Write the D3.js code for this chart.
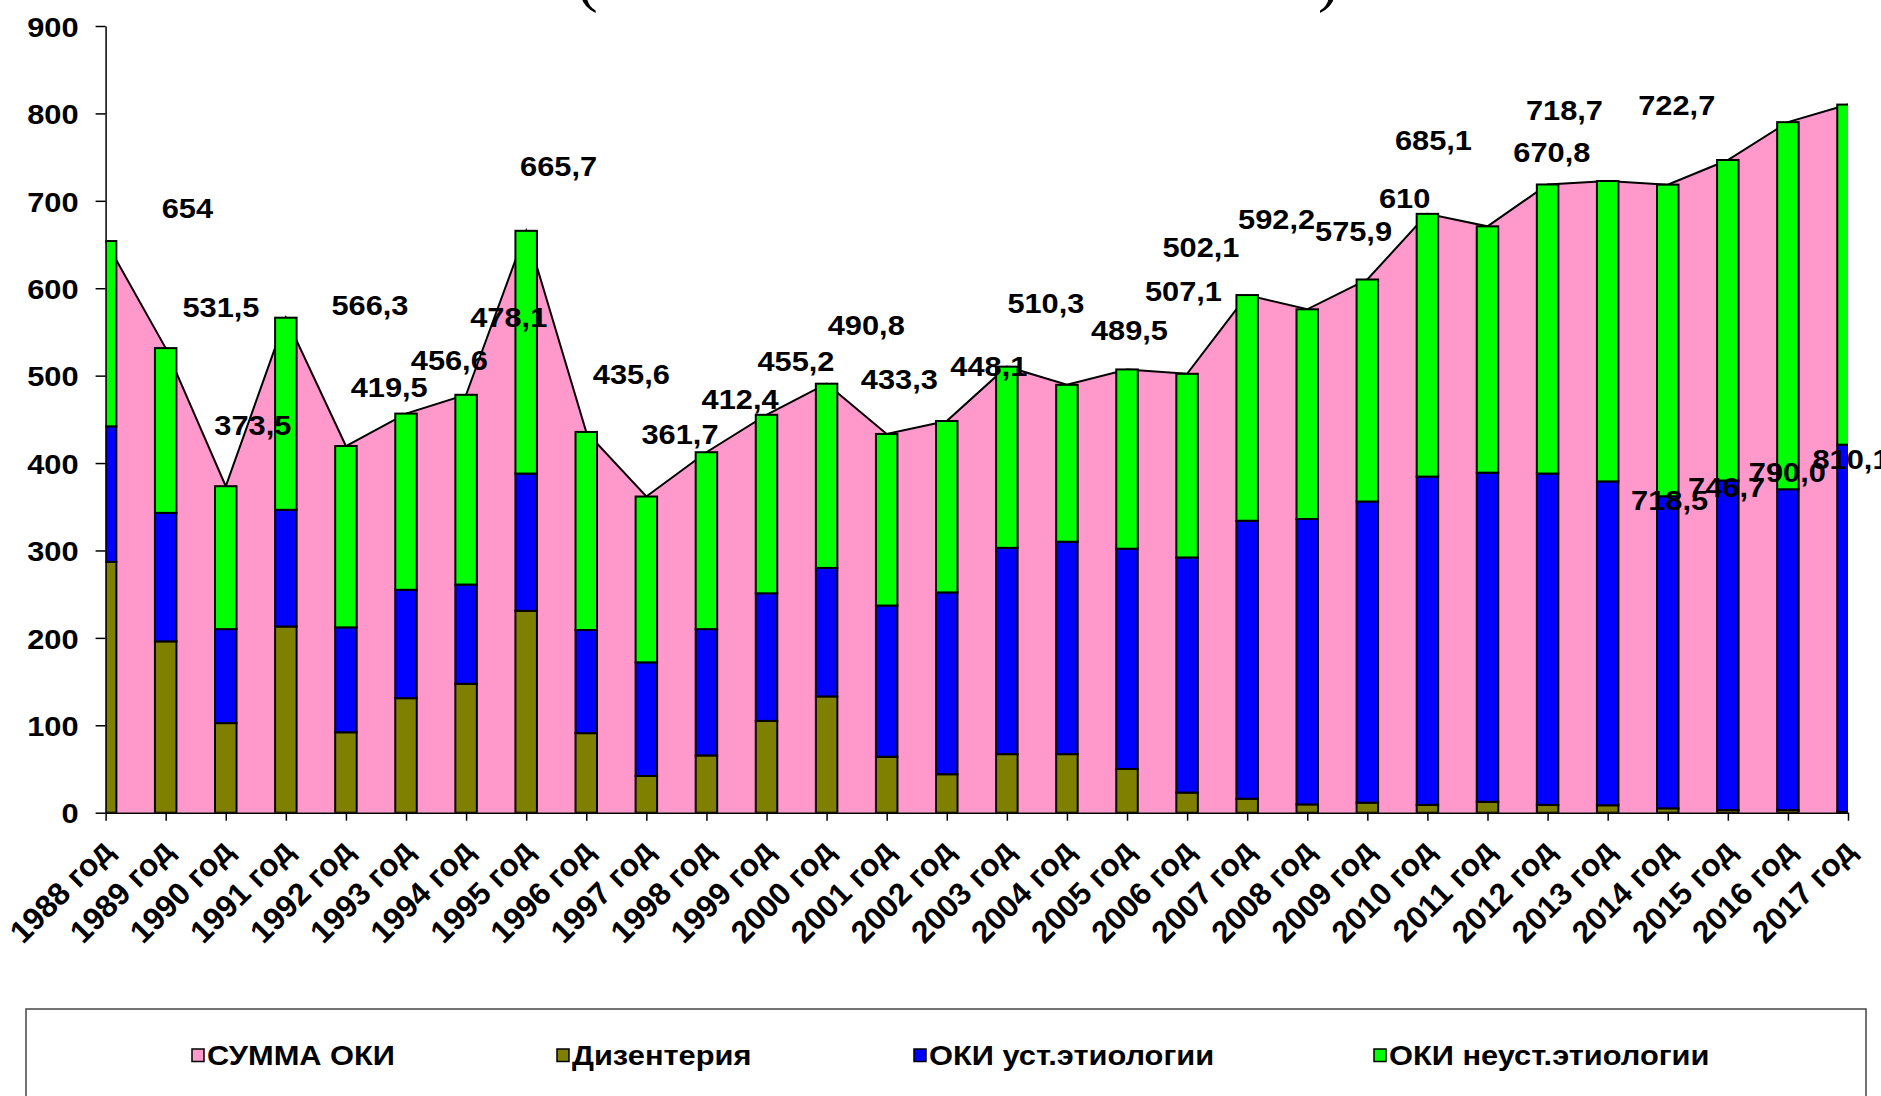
<!DOCTYPE html>
<meta charset="utf-8">
<style>
body { margin: 0; background: #fff; }
svg text { font-family: "Liberation Sans", Arial, sans-serif; font-weight: bold; fill: #000; }
.axis path, .axis line { stroke: #000; stroke-width: 1.5; fill: none; }
</style>
<body>
<script src="https://d3js.org/d3.v7.min.js"></script>
<script>

// categories
var years = ["1988 год", "1989 год", "1990 год", "1991 год", "1992 год", "1993 год",
  "1994 год", "1995 год", "1996 год", "1997 год", "1998 год", "1999 год", "2000 год",
  "2001 год", "2002 год", "2003 год", "2004 год", "2005 год", "2006 год", "2007 год",
  "2008 год", "2009 год", "2010 год", "2011 год", "2012 год", "2013 год", "2014 год",
  "2015 год", "2016 год", "2017 год"];

// СУММА ОКИ (area)
var summa = [654, 531.5, 373.5, 566.3, 419.5, 456.6, 478.1, 665.7, 435.6, 361.7, 412.4,
  455.2, 490.8, 433.3, 448.1, 510.3, 489.5, 507.1, 502.1, 592.2, 575.9, 610, 685.1,
  670.8, 718.7, 722.7, 718.5, 746.7, 790.0, 810.1];

// stacked bars
var dysentery = [287, 196, 102.5, 213, 92, 131, 147.5, 231, 91, 42, 65.5, 105, 133, 64,
  44, 67, 67, 50, 23, 16, 9.5, 11.5, 9, 12.5, 9, 8.5, 5, 3, 3, 1];
var okiUst = [155, 147, 107.5, 133.5, 120, 124, 113.5, 157, 118, 130, 144.5, 146, 147,
  173, 208, 236, 243, 252, 269, 318, 326.5, 344.5, 375.5, 376.5, 379, 370.5, 357, 377,
  367, 420];
var okiNeust = [212, 188.5, 163.5, 219.8, 207.5, 201.6, 217.1, 277.7, 226.6, 189.7, 202.4,
  204.2, 210.8, 196.3, 196.1, 207.3, 179.5, 205.1, 210.1, 258.2, 239.9, 254, 300.6, 281.8,
  330.7, 343.7, 356.5, 366.7, 420, 389.1];

// data labels as printed, and where they sit (category index, value units)
var labelText = ["654", "531,5", "373,5", "566,3", "419,5", "456,6", "478,1", "665,7",
  "435,6", "361,7", "412,4", "455,2", "490,8", "433,3", "448,1", "510,3", "489,5", "507,1",
  "502,1", "592,2", "575,9", "610", "685,1", "670,8", "718,7", "722,7", "718,5", "746,7",
  "790,0", "810,1"];
var labelAtX = [1.36, 1.92, 2.45, 4.40, 4.72, 5.72, 6.71, 7.54, 8.75, 9.56, 10.56, 11.49,
  12.66, 13.21, 14.70, 15.65, 17.04, 17.94, 18.23, 19.49, 20.77, 21.62, 22.10, 24.07,
  24.28, 26.15, 26.03, 26.98, 27.99, 29.05];
var labelAtY = [692, 579, 444, 581, 487, 518, 567, 740, 502, 434, 474, 517, 558, 497, 511,
  583, 553, 597, 647, 680, 666, 703, 770, 756, 804, 810, 358, 373, 390, 405];

var legendNames = ["СУММА ОКИ", "Дизентерия", "ОКИ уст.этиологии", "ОКИ неуст.этиологии"];
var legendColors = ["#FF99CC", "#808000", "#0000FF", "#00FF00"];

var width = 1881, height = 1096;
var plotLeft = 105.6, plotRight = 1848, plotTop = 26, plotBottom = 812.7;
var stretch = 1.08; // the source picture is a little wider than tall

var svg = d3.select("body").append("svg")
    .attr("width", width)
    .attr("height", height);

var x = d3.scaleLinear().domain([0, years.length - 1]).range([plotLeft, plotRight]);
var y = d3.scaleLinear().domain([0, 900]).range([plotBottom, plotTop]);

svg.append("defs").append("clipPath").attr("id", "plot")
  .append("rect")
    .attr("x", plotLeft).attr("y", 0)
    .attr("width", plotRight - plotLeft).attr("height", plotBottom);

// pink area for the total
var area = d3.area()
    .x(function(d, i) { return x(i); })
    .y0(y(0))
    .y1(function(d) { return y(d); });
var line = d3.line()
    .x(function(d, i) { return x(i); })
    .y(function(d) { return y(d); });

svg.append("path")
    .datum(summa)
    .attr("d", area)
    .attr("fill", "#FF99CC");
svg.append("path")
    .datum(summa)
    .attr("d", line)
    .attr("fill", "none")
    .attr("stroke", "#000")
    .attr("stroke-width", 2);

// stacked bars
var rows = years.map(function(yr, i) {
  return {year: yr, i: i, dys: dysentery[i], ust: okiUst[i], neust: okiNeust[i]};
});
var series = d3.stack().keys(["dys", "ust", "neust"])(rows);
var barColor = {dys: "#808000", ust: "#0000FF", neust: "#00FF00"};
var barW = 21.5;

svg.append("g")
    .attr("clip-path", "url(#plot)")
  .selectAll("g")
    .data(series)
  .enter().append("g")
    .attr("fill", function(s) { return barColor[s.key]; })
  .selectAll("rect")
    .data(function(s) { return s; })
  .enter().append("rect")
    .attr("x", function(d) { return x(d.data.i) - barW / 2; })
    .attr("y", function(d) { return y(d[1]); })
    .attr("width", barW)
    .attr("height", function(d) { return y(d[0]) - y(d[1]); })
    .attr("stroke", "#000")
    .attr("stroke-width", 2);

// axes
var yAxis = svg.append("g")
    .attr("class", "axis")
    .attr("transform", "translate(" + plotLeft + ",0)")
    .call(d3.axisLeft(y).tickValues(d3.range(0, 901, 100)).tickSize(10).tickSizeOuter(0).tickPadding(17));
yAxis.selectAll("text")
    .style("font-size", "28.5px")
    .attr("x", 0)
    .attr("dy", "0.36em")
    .attr("transform", "translate(-27,0) scale(" + stretch + ",1)");

var xAxis = svg.append("g")
    .attr("class", "axis")
    .attr("transform", "translate(0," + plotBottom + ")")
    .call(d3.axisBottom(x).tickValues(d3.range(years.length)).tickSize(8).tickSizeOuter(0)
      .tickFormat(function(i) { return years[i]; }));
xAxis.selectAll("text")
    .style("font-size", "31.5px")
    .attr("x", 0).attr("y", 0).attr("dy", null)
    .attr("text-anchor", "end")
    .attr("transform", "translate(9,40) rotate(-45)");

// data labels
svg.append("g").selectAll("text")
    .data(labelText)
  .enter().append("text")
    .attr("transform", function(d, i) {
      return "translate(" + x(labelAtX[i]) + "," + y(labelAtY[i]) + ") scale(" + stretch + ",1)";
    })
    .attr("dy", "0.36em")
    .attr("text-anchor", "middle")
    .style("font-size", "28.5px")
    .text(function(d) { return d; });

// cut-off title: only the bottoms of the brackets remain visible
svg.append("text").attr("x", 577).attr("y", 0)
    .style("font-family", "'Liberation Serif', 'Times New Roman', serif")
    .style("font-weight", "normal").style("font-size", "62px").text("(");
svg.append("text").attr("x", 1318).attr("y", 0)
    .style("font-family", "'Liberation Serif', 'Times New Roman', serif")
    .style("font-weight", "normal").style("font-size", "62px").text(")");

// legend
svg.append("rect")
    .attr("x", 26).attr("y", 1009)
    .attr("width", 1840).attr("height", 120)
    .attr("fill", "#fff")
    .attr("stroke", "#444")
    .attr("stroke-width", 1.5);

var legendX = [192, 557, 914, 1374];
var leg = svg.append("g").selectAll("g")
    .data(legendNames)
  .enter().append("g")
    .attr("transform", function(d, i) { return "translate(" + legendX[i] + ",1049)"; });
leg.append("rect")
    .attr("width", 12).attr("height", 12.5)
    .attr("fill", function(d, i) { return legendColors[i]; })
    .attr("stroke", "#000").attr("stroke-width", 1.5);
leg.append("text")
    .attr("transform", "translate(15,16) scale(1.1,1)")
    .style("font-size", "28px")
    .text(function(d) { return d; });

</script>
</body>
